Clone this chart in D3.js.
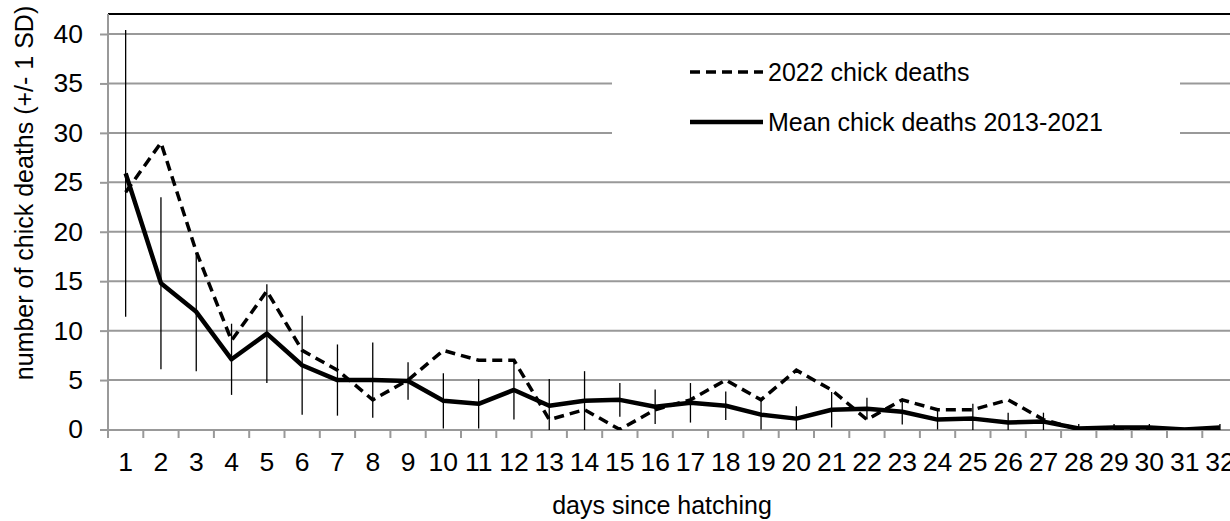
<!DOCTYPE html>
<html>
<head>
<meta charset="utf-8">
<script src="https://cdn.jsdelivr.net/npm/d3@7"></script>
<style>
  html, body { margin: 0; padding: 0; background: #fff; }
  svg { display: block; font-family: "Liberation Sans", Arial, sans-serif; }
</style>
</head>
<body>
<svg id="chart" width="1230" height="521"></svg>
<script>
// Days since hatching
const days = d3.range(1, 33);
// Mean chick deaths 2013-2021 per day
const meanDeaths = [25.9, 14.8, 11.9, 7.1, 9.7, 6.5, 5.0, 5.0, 4.9, 2.9, 2.6, 4.0, 2.4, 2.9, 3.0, 2.3,
                    2.7, 2.4, 1.5, 1.1, 2.0, 2.1, 1.8, 1.0, 1.1, 0.7, 0.8, 0.1, 0.2, 0.2, 0, 0.2];
// Standard deviation of the 2013-2021 mean
const meanSD = [14.5, 8.7, 6.0, 3.6, 5.0, 5.0, 3.6, 3.8, 1.9, 2.8, 2.5, 3.0, 2.7, 3.0, 1.7, 1.75,
                2.0, 1.45, 1.5, 1.25, 1.8, 1.1, 1.3, 1.0, 1.5, 1.0, 0.9, 0.45, 0.35, 0.35, 0, 0.35];
// 2022 chick deaths per day
const deaths2022 = [24, 29, 18, 9, 14, 8, 6, 3, 5, 8, 7, 7, 1, 2, 0, 2,
                    3, 5, 3, 6, 4, 1, 3, 2, 2, 3, 1, 0, 0, 0, 0, 0];
const yTicks = [0, 5, 10, 15, 20, 25, 30, 35, 40];
const legendLabels = ["2022 chick deaths", "Mean chick deaths 2013-2021"];

(function draw() {
  const svg = d3.select("#chart");
  const plotLeft = 108, plotTop = 14, plotBottom = 430, plotRight = plotLeft + 32 * 35.3;
  const gridColor = "#999999";
  const fontSize = 25;
  const tickFont = 26.5;

  const x = d3.scaleBand().domain(days).range([plotLeft, plotRight]).padding(0);
  const y = d3.scaleLinear().domain([0, 40]).range([429.5, 34]);
  const cx = d => x(d) + x.bandwidth() / 2;

  svg.append("defs").append("clipPath").attr("id", "plot-clip")
    .append("rect").attr("x", plotLeft).attr("y", plotTop)
    .attr("width", plotRight - plotLeft).attr("height", plotBottom - plotTop);

  // Horizontal gridlines
  svg.append("g").selectAll("line").data(yTicks.filter(t => t > 0)).join("line")
    .attr("x1", plotLeft).attr("x2", plotRight)
    .attr("y1", d => y(d)).attr("y2", d => y(d))
    .attr("stroke", gridColor).attr("stroke-width", 2);

  // Top border of the plot area
  svg.append("line").attr("x1", plotLeft).attr("x2", plotRight).attr("y1", plotTop).attr("y2", plotTop)
    .attr("stroke", "#000").attr("stroke-width", 2);

  // Y axis
  const yAxis = svg.append("g").attr("transform", `translate(${plotLeft},0)`)
    .call(d3.axisLeft(y).tickValues(yTicks).tickSize(8).tickPadding(17));
  yAxis.select(".domain").remove();
  yAxis.selectAll(".tick line").attr("stroke", gridColor).attr("stroke-width", 2);
  yAxis.selectAll(".tick text").attr("font-size", tickFont).attr("fill", "#000")
    .attr("font-family", "Liberation Sans, Arial, sans-serif");
  svg.append("line").attr("x1", plotLeft).attr("x2", plotLeft).attr("y1", plotTop).attr("y2", plotBottom)
    .attr("stroke", gridColor).attr("stroke-width", 2);

  // X axis: labels centred on categories, tick marks between them
  const xAxis = svg.append("g").attr("transform", `translate(0,${plotBottom})`)
    .call(d3.axisBottom(x).tickSize(0).tickPadding(22));
  xAxis.select(".domain").remove();
  xAxis.selectAll(".tick text").attr("font-size", tickFont).attr("fill", "#000")
    .attr("font-family", "Liberation Sans, Arial, sans-serif");
  svg.append("g").selectAll("line").data(days.concat([33])).join("line")
    .attr("x1", d => d === 33 ? plotRight : x(d)).attr("x2", d => d === 33 ? plotRight : x(d))
    .attr("y1", plotBottom).attr("y2", plotBottom + 8)
    .attr("stroke", gridColor).attr("stroke-width", 2);
  svg.append("line").attr("x1", plotLeft).attr("x2", plotRight).attr("y1", plotBottom).attr("y2", plotBottom)
    .attr("stroke", gridColor).attr("stroke-width", 2);

  // Data layer
  const plot = svg.append("g").attr("clip-path", "url(#plot-clip)");

  // Error bars (mean +/- 1 SD)
  plot.append("g").selectAll("line").data(days).join("line")
    .attr("x1", d => cx(d)).attr("x2", d => cx(d))
    .attr("y1", (d, i) => y(meanDeaths[i] + meanSD[i]))
    .attr("y2", (d, i) => y(meanDeaths[i] - meanSD[i]))
    .attr("stroke", "#000").attr("stroke-width", 1.3);

  const line = d3.line().x(d => cx(d[0])).y(d => y(d[1]));

  plot.append("path").datum(days.map((d, i) => [d, deaths2022[i]]))
    .attr("d", line).attr("fill", "none").attr("stroke", "#000")
    .attr("stroke-width", 3.5).attr("stroke-dasharray", "10,6");

  plot.append("path").datum(days.map((d, i) => [d, meanDeaths[i]]))
    .attr("d", line).attr("fill", "none").attr("stroke", "#000")
    .attr("stroke-width", 4.5).attr("stroke-linejoin", "round");

  // Legend
  const legend = svg.append("g");
  legend.append("rect").attr("x", 612).attr("y", 45).attr("width", 568).attr("height", 103).attr("fill", "#fff");
  const legendRows = [
    { label: legendLabels[0], dash: "10,6", width: 3.5, yPos: 72 },
    { label: legendLabels[1], dash: null, width: 4.5, yPos: 122 }
  ];
  legendRows.forEach(r => {
    legend.append("line").attr("x1", 690).attr("x2", 763).attr("y1", r.yPos).attr("y2", r.yPos)
      .attr("stroke", "#000").attr("stroke-width", r.width)
      .attr("stroke-dasharray", r.dash);
    legend.append("text").attr("x", 768).attr("y", r.yPos).attr("dy", "0.35em")
      .attr("font-size", fontSize).text(r.label);
  });

  // Axis titles
  svg.append("text").attr("x", 662).attr("y", 514)
    .attr("text-anchor", "middle").attr("font-size", fontSize).text("days since hatching");
  svg.append("text").attr("transform", "translate(33,193) rotate(-90)")
    .attr("text-anchor", "middle").attr("font-size", fontSize).text("number of chick deaths (+/- 1 SD)");
})();
</script>
</body>
</html>
